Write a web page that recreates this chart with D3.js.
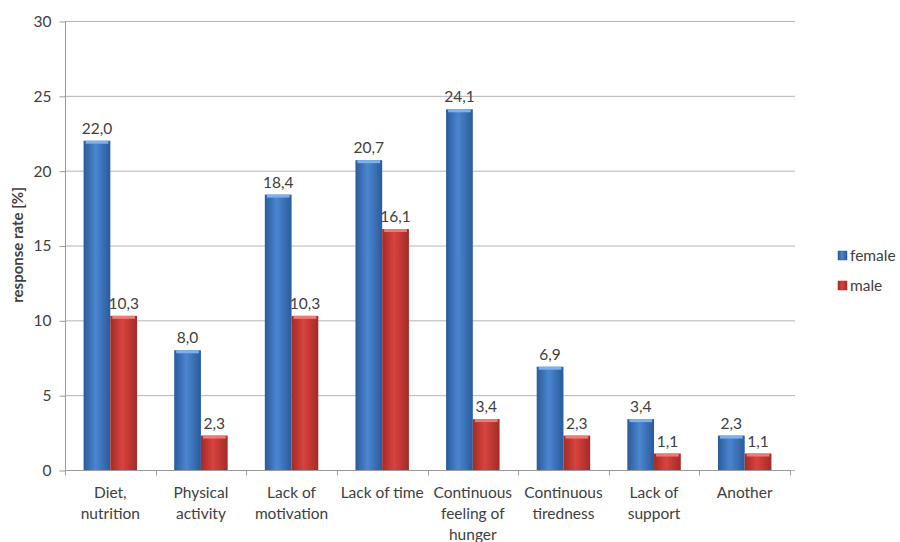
<!DOCTYPE html>
<html>
<head>
<meta charset="utf-8">
<script src="https://cdn.jsdelivr.net/npm/d3@7"></script>
<style>
  body { margin: 0; background: #fff; }
  text { font-family: Lato, "Open Sans", sans-serif; fill: #404040; }
</style>
</head>
<body>
<div id="chart"></div>
<script>
// categories, each split into lines for the x axis
const categories = [
  ["Diet,", "nutrition"],
  ["Physical", "activity"],
  ["Lack of", "motivation"],
  ["Lack of time"],
  ["Continuous", "feeling of", "hunger"],
  ["Continuous", "tiredness"],
  ["Lack of", "support"],
  ["Another"]
];
const female = [22.0, 8.0, 18.4, 20.7, 24.1, 6.9, 3.4, 2.3];
const male = [10.3, 2.3, 10.3, 16.1, 3.4, 2.3, 1.1, 1.1];
const yTicks = [0, 5, 10, 15, 20, 25, 30];
const seriesNames = ["female", "male"];

const width = 900, height = 542;
const margin = {left: 65, right: 110, top: 21, bottom: 72};
const plotW = 790 - margin.left;

const svg = d3.select("#chart").append("svg")
  .attr("width", width)
  .attr("height", height);

const defs = svg.append("defs");
function gradient(id, edge, mid) {
  let g = defs.append("linearGradient").attr("id", id)
    .attr("x1", "0%").attr("x2", "100%").attr("y1", "0%").attr("y2", "0%");
  g.append("stop").attr("offset", "0%").attr("stop-color", edge);
  g.append("stop").attr("offset", "45%").attr("stop-color", mid);
  g.append("stop").attr("offset", "100%").attr("stop-color", edge);
}
gradient("gBlue", "#2a5b9a", "#4a86d0");
gradient("gRed", "#a32b28", "#d8433d");
const fills = ["url(#gBlue)", "url(#gRed)"];
const tops = ["#7fb0ea", "#ee7a74"];

const x = d3.scaleBand()
  .domain(d3.range(categories.length))
  .range([margin.left, margin.left + plotW])
  .paddingInner(0).paddingOuter(0);

const inner = d3.scaleBand()
  .domain([0, 1])
  .range([x.bandwidth() * 0.205, x.bandwidth() * 0.795]);

const y = d3.scaleLinear()
  .domain([0, 30])
  .range([470, 21]);

// gridlines
svg.append("g")
  .selectAll("line")
  .data(yTicks)
  .join("line")
  .attr("x1", margin.left)
  .attr("x2", 795)
  .attr("y1", d => y(d) + 0.5)
  .attr("y2", d => y(d) + 0.5)
  .attr("stroke", "#b4b4b4")
  .attr("stroke-width", 1);

// y axis
const yAxis = svg.append("g")
  .attr("transform", "translate(" + (margin.left + 0.5) + ",0.5)")
  .call(d3.axisLeft(y).tickValues(yTicks).tickSize(6).tickPadding(8));
yAxis.selectAll("line").attr("stroke", "#9a9a9a");
yAxis.select(".domain").attr("stroke", "#9a9a9a").attr("d", "M0," + y(30) + "V" + y(0));
yAxis.selectAll("text").style("font-size", "15.5px").attr("fill", "#404040")
  .style("font-family", "Lato, sans-serif");

// x axis
const xAxis = svg.append("g")
  .attr("transform", "translate(0," + (y(0) + 0.5) + ")");
xAxis.append("line")
  .attr("x1", margin.left).attr("x2", margin.left + plotW)
  .attr("stroke", "#9a9a9a");
xAxis.selectAll(".tk")
  .data(d3.range(categories.length + 1))
  .join("line")
  .attr("class", "tk")
  .attr("x1", d => Math.round(margin.left + d * x.step()) + 0.5)
  .attr("x2", d => Math.round(margin.left + d * x.step()) + 0.5)
  .attr("y1", 0).attr("y2", 5)
  .attr("stroke", "#9a9a9a");

const catLabels = svg.append("g").selectAll("text")
  .data(categories)
  .join("text")
  .attr("text-anchor", "middle")
  .style("font-size", "15.5px")
  .attr("transform", (d, i) => "translate(" + (x(i) + x.bandwidth() / 2) + ",498)");
catLabels.selectAll("tspan")
  .data(d => d)
  .join("tspan")
  .attr("x", 0)
  .attr("dy", (d, i) => i == 0 ? 0 : 21)
  .text(d => d);

// bars
const groups = svg.append("g").selectAll("g")
  .data(categories.map((c, i) => [female[i], male[i]]))
  .join("g")
  .attr("transform", (d, i) => "translate(" + x(i) + ",0)");

groups.selectAll("rect.bar")
  .data(d => d)
  .join("rect")
  .attr("class", "bar")
  .attr("x", (d, j) => inner(j))
  .attr("width", inner.bandwidth())
  .attr("y", d => y(d))
  .attr("height", d => y(0) - y(d))
  .attr("fill", (d, j) => fills[j]);

groups.selectAll("rect.top")
  .data(d => d)
  .join("rect")
  .attr("class", "top")
  .attr("x", (d, j) => inner(j) + 2)
  .attr("width", inner.bandwidth() - 4)
  .attr("y", d => y(d))
  .attr("height", 3)
  .attr("fill", (d, j) => tops[j]);

const fmt = v => v.toFixed(1).replace(".", ",");
groups.selectAll("text")
  .data(d => d)
  .join("text")
  .attr("x", (d, j) => inner(j) + inner.bandwidth() / 2)
  .attr("y", d => y(d) - 7)
  .attr("text-anchor", "middle")
  .style("font-size", "15.5px")
  .text(d => fmt(d));

// y title
svg.append("text")
  .attr("transform", "translate(23,245) rotate(-90)")
  .attr("text-anchor", "middle")
  .style("font-size", "15px")
  .style("font-weight", "bold")
  .attr("fill", "#222")
  .text("response rate  [%]");

// legend
const legend = svg.append("g").selectAll("g")
  .data(seriesNames)
  .join("g")
  .attr("transform", (d, i) => "translate(838," + (251 + i * 30) + ")");
legend.append("rect")
  .attr("width", 9).attr("height", 9)
  .attr("fill", (d, i) => fills[i])
  .attr("stroke", (d, i) => i == 0 ? "#2a5b9a" : "#a32b28")
  .attr("stroke-width", 0.5);
legend.append("text")
  .attr("x", 12).attr("y", 10)
  .style("font-size", "15.5px")
  .text(d => d);
</script>
</body>
</html>
